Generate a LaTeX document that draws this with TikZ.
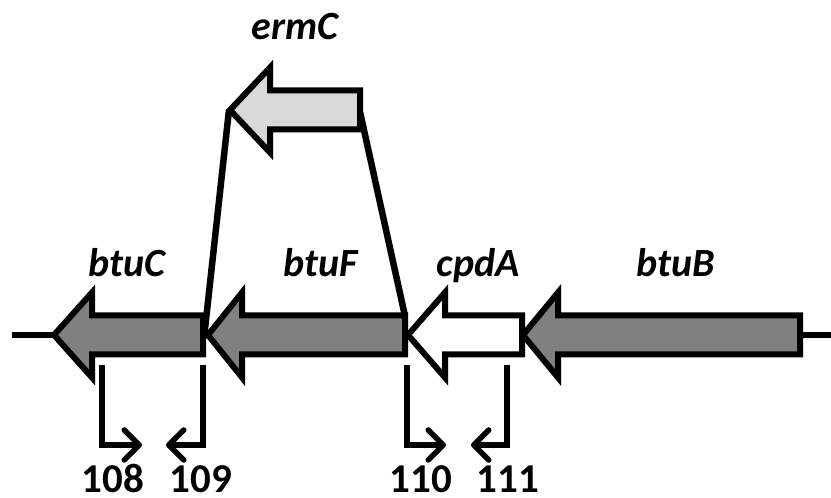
\documentclass[tikz,border=0pt]{standalone}
\usepackage{fontspec}
\setmainfont{Carlito}
\usetikzlibrary{arrows.meta}
\definecolor{genedark}{HTML}{808080}
\definecolor{genelight}{HTML}{D9D9D9}
\tikzset{
  genebox/.style={draw=black, line width=6pt, line join=miter, miter limit=10},
  backbone/.style={line width=6pt},
  linkline/.style={line width=6.5pt},
  primer/.style={line width=5.5pt, -{Straight Barb[length=15pt,width=30pt,line cap=round,line join=round]}},
  genelabel/.style={font=\fontsize{40}{42}\selectfont\bfseries\itshape, anchor=base, inner sep=0pt},
  numlabel/.style={font=\fontsize{41}{42}\selectfont\bfseries, anchor=base, inner sep=0pt}
}
% #1 name, #2 tip x, #3 head back x, #4 right x, #5 center y, #6 fill
\newcommand{\genearrow}[6]{%
  \coordinate (#1-tip) at (#2,#5);
  \coordinate (#1-end) at (#4,#5);
  \coordinate (#1-endtop) at (#4,#5+19.5);
  \draw[genebox, fill=#6] (#2,#5) -- (#3,#5+42.5) -- (#3,#5+19.5) -- (#4,#5+19.5)
     -- (#4,#5-19.5) -- (#3,#5-19.5) -- (#3,#5-42.5) -- cycle;
}
\begin{document}
\begin{tikzpicture}[x=1pt,y=1pt]
\useasboundingbox (0,0) rectangle (831,498);
% backbone
\coordinate (bbL) at (12,163);
\coordinate (bbR) at (831,163);
\draw[backbone] (bbL) -- (bbR);
% insertion link lines (behind genes)
\coordinate (ermtip) at (229,388);
\coordinate (ermend) at (360,386);
\coordinate (junL) at (204,160);
\coordinate (junR) at (405,182);
\draw[linkline] (ermtip) -- (junL);
\draw[linkline] (ermend) -- (junR);
% genes
\genearrow{btuC}{54}{92}{203}{163}{genedark}
\genearrow{btuF}{208}{242}{405}{163}{genedark}
\genearrow{cpdA}{408}{445}{522}{163}{white}
\genearrow{btuB}{523}{558}{800}{163}{genedark}
\genearrow{ermC}{230}{270}{360}{388}{genelight}
% gene labels
\node[genelabel] (lermC) at (295,458) {ermC};
\node[genelabel] (lbtuC) at (127,221) {btuC};
\node[genelabel] (lbtuF) at (321,221) {btuF};
\node[genelabel] (lcpdA) at (478,221) {cpdA};
\node[genelabel] (lbtuB) at (676,221) {btuB};
% primers
\coordinate (p108a) at (102,133); \coordinate (p108b) at (102,53); \coordinate (p108c) at (142,53);
\coordinate (p109a) at (203,133); \coordinate (p109b) at (203,53); \coordinate (p109c) at (166,53);
\coordinate (p110a) at (407,133); \coordinate (p110b) at (407,53); \coordinate (p110c) at (446,53);
\coordinate (p111a) at (507,133); \coordinate (p111b) at (507,53); \coordinate (p111c) at (471,53);
\draw[primer] (p108a) -- (p108b) -- (p108c);
\draw[primer] (p109a) -- (p109b) -- (p109c);
\draw[primer] (p110a) -- (p110b) -- (p110c);
\draw[primer] (p111a) -- (p111b) -- (p111c);
% numbers
\node[numlabel] (n108) at (113,5) {108};
\node[numlabel] (n109) at (201,5) {109};
\node[numlabel] (n110) at (421,5) {110};
\node[numlabel] (n111) at (508,5) {111};
\end{tikzpicture}
\end{document}
